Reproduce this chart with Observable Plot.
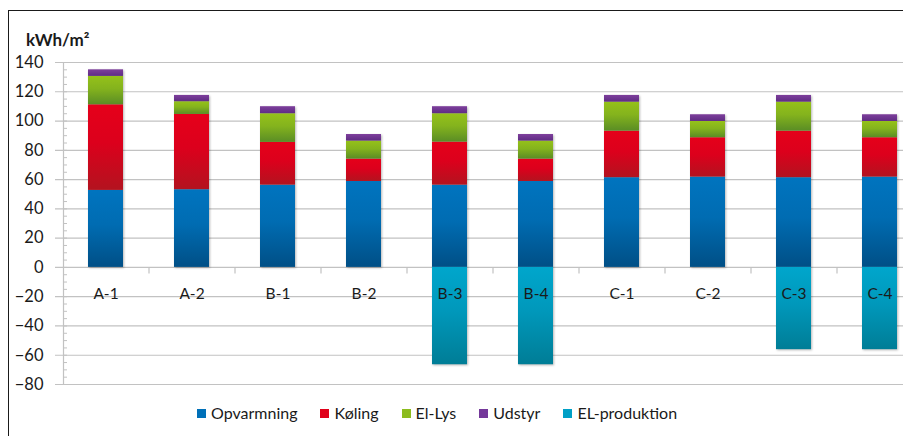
<!DOCTYPE html>
<html>
<head>
<meta charset="utf-8">
<script src="https://cdn.jsdelivr.net/npm/d3@7"></script>
<script src="https://cdn.jsdelivr.net/npm/@observablehq/plot@0.6"></script>
<style>
  html, body { margin: 0; padding: 0; background: #fff; }
  #root { position: relative; width: 905px; height: 436px; overflow: hidden; font-family: Lato, "Open Sans", sans-serif; }
  #border { position: absolute; left: 8px; top: 10px; right: 2px; bottom: -5px; border-left: 1.5px solid #1a1a1a; border-top: 1.5px solid #1a1a1a; }
  #title { position: absolute; left: 26px; top: 31px; font-weight: bold; font-size: 17px; color: #1a1a1a; line-height: 17px; }
  #chart { position: absolute; left: 0; top: 0; }
  #legend { position: absolute; left: 197px; top: 404px; display: flex; gap: 23px; font-size: 16px; color: #1a1a1a; line-height: 18px; }
  #legend .item { display: flex; align-items: center; }
  #legend .sw { width: 9px; height: 9px; margin-right: 5px; display: inline-block; }
  #chart svg g[aria-label="bar"] { filter: drop-shadow(1px 1.5px 1px rgba(0,0,0,0.28)); }
</style>
</head>
<body>
<svg width="0" height="0" style="position:absolute">
  <defs>
    <linearGradient id="gOpv" x1="0" y1="0" x2="0" y2="1">
      <stop offset="0" stop-color="#0074bf"/><stop offset="0.45" stop-color="#006cb2"/><stop offset="1" stop-color="#004f86"/>
    </linearGradient>
    <linearGradient id="gKol" x1="0" y1="0" x2="0" y2="1">
      <stop offset="0" stop-color="#e5001a"/><stop offset="0.45" stop-color="#dc001c"/><stop offset="1" stop-color="#b3131f"/>
    </linearGradient>
    <linearGradient id="gLys" x1="0" y1="0" x2="0" y2="1">
      <stop offset="0" stop-color="#95c11a"/><stop offset="0.45" stop-color="#84b31d"/><stop offset="1" stop-color="#5a8d25"/>
    </linearGradient>
    <linearGradient id="gUd" x1="0" y1="0" x2="0" y2="1">
      <stop offset="0" stop-color="#7e3f9c"/><stop offset="1" stop-color="#5f2c84"/>
    </linearGradient>
    <linearGradient id="gProd" x1="0" y1="0" x2="0" y2="1">
      <stop offset="0" stop-color="#00a6cc"/><stop offset="0.45" stop-color="#0098bb"/><stop offset="1" stop-color="#007d96"/>
    </linearGradient>
  </defs>
</svg>
<div id="root">
  <div id="border"></div>
  <div id="title">kWh/m²</div>
  <div id="chart"></div>
  <div id="legend"></div>
</div>
<script>
const categories = ["A-1","A-2","B-1","B-2","B-3","B-4","C-1","C-2","C-3","C-4"];
const seriesNames = ["Opvarmning","Køling","El-Lys","Udstyr","EL-produktion"];
const opvarmning   = [52.6, 53.1, 56.2, 58.7, 56.2, 58.7, 61.3, 61.7, 61.3, 61.7];
const koling       = [58.5, 51.4, 29.2, 15.3, 29.4, 15.3, 31.8, 26.9, 31.8, 26.9];
const elLys        = [19.4,  8.7, 19.6, 12.3, 19.4, 12.3, 19.8, 11.1, 19.8, 11.1];
const udstyr       = [ 4.5,  4.3,  4.8,  4.5,  4.8,  4.5,  4.6,  4.6,  4.6,  4.6];
const elProduktion = [   0,    0,    0,    0, -66.5, -66.5,  0,    0, -56.2, -56.2];
const yTicks = [-80,-60,-40,-20,0,20,40,60,80,100,120,140];
const yMinorTicks = d3.range(-80, 141, 5);

const seriesValues = [opvarmning, koling, elLys, udstyr, elProduktion];
const fills = ["url(#gOpv)","url(#gKol)","url(#gLys)","url(#gUd)","url(#gProd)"];
const swatch = ["#0070b8","#e0001a","#8cbc1e","#74389a","#00a0c6"];

const rows = [];
seriesNames.forEach((s, si) => {
  categories.forEach((c, ci) => rows.push({category: c, series: s, value: seriesValues[si][ci]}));
});

const gray = "#c2c2c2";
const chart = Plot.plot({
  width: 905,
  height: 395,
  marginTop: 62,
  marginBottom: 11,
  marginLeft: 63,
  marginRight: 2,
  style: {fontFamily: "Lato, 'Open Sans', sans-serif", fontSize: "15px", color: "#1a1a1a", background: "transparent"},
  x: {domain: categories, type: "band", paddingInner: 0.593, paddingOuter: 0.18, align: 0.816, axis: null},
  y: {domain: [-80, 140], axis: null},
  color: {type: "ordinal", domain: seriesNames, range: fills},
  marks: [
    Plot.ruleY(yTicks, {stroke: gray, strokeWidth: 1.2, insetLeft: -8}),
    Plot.frame({anchor: "left", stroke: gray, strokeWidth: 1.2}),
    Plot.axisY(yMinorTicks, {tickSize: -4, tickFormat: () => "", stroke: gray, strokeOpacity: 1, label: null}),
    Plot.axisY(yTicks, {tickSize: 0, tickPadding: 20, fontSize: 16.5, fill: "#1a1a1a", label: null}),
    Plot.ruleX(categories.slice(1), {x: d => d, dx: -43, y1: 0, y2: -4.5, stroke: gray, strokeWidth: 1.2}),
    Plot.barY(rows, Plot.stackY({x: "category", y: "value", fill: "series", order: seriesNames})),
    Plot.text(categories, {x: d => d, y: 0, dy: 27, fontSize: 15.5, fill: "#1a1a1a"})
  ]
});
document.getElementById("chart").appendChild(chart);

const legend = document.getElementById("legend");
seriesNames.forEach((s, i) => {
  const it = document.createElement("div");
  it.className = "item";
  const sw = document.createElement("span");
  sw.className = "sw";
  sw.style.background = swatch[i];
  it.appendChild(sw);
  it.appendChild(document.createTextNode(s));
  legend.appendChild(it);
});
</script>
</body>
</html>
